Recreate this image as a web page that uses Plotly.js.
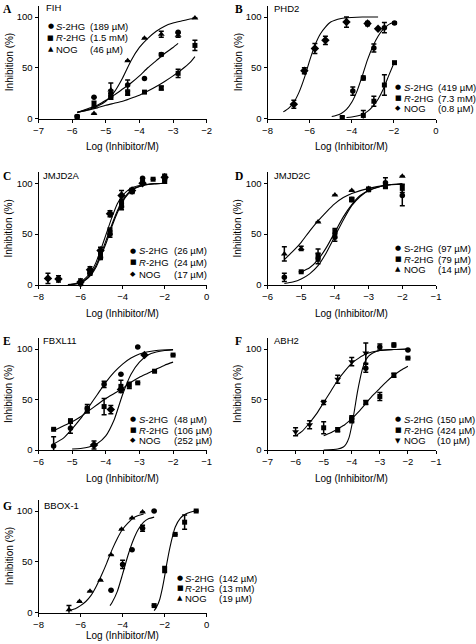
<!DOCTYPE html>
<html><head><meta charset="utf-8">
<script src="https://cdn.plot.ly/plotly-3.0.1.min.js"></script>
<style>html,body{margin:0;padding:0;background:#fff}</style>
</head><body><div id="chart" style="width:476px;height:644px"></div>
<script>
// ---------------- DATA ----------------
// Panel A - FIH
const A_S_x=[-5.85,-5.35,-4.85,-4.35,-3.85,-3.35,-2.85], A_S_y=[2,21,25,33,39.5,63,85], A_S_e=[null,null,3,5,null,1.5,null];
const A_R_x=[-5.85,-5.35,-4.85,-4.35,-3.85,-3.35,-2.85,-2.35], A_R_y=[1.5,14,21,25,26,30,44.5,72], A_R_e=[1.5,3,2,2,1,2,4,5];
const A_N_x=[-5.35,-4.85,-4.35,-3.85,-3.35,-2.85,-2.35], A_N_y=[5,28,57,79,83,82,99], A_N_e=[null,7,null,null,3,2,null];
const A_fS_x=[-5.85,-5.5,-5.25,-5,-4.75,-4.5,-4.25,-4,-3.75,-3.5,-3.25,-3,-2.85], A_fS_y=[6,10,13,18,23,29,35,42,50,57,64,70,74];
const A_fR_x=[-5.85,-5.5,-5.25,-5,-4.75,-4.5,-4.25,-4,-3.75,-3.5,-3.25,-3,-2.75,-2.5,-2.35], A_fR_y=[6,8.5,10.5,13,15,17,20,23,27,31.5,36.5,42,48,55,61];
const A_fN_x=[-5.85,-5.5,-5.25,-5,-4.75,-4.5,-4.25,-4,-3.75,-3.5,-3.25,-3,-2.75,-2.5,-2.35], A_fN_y=[6,9,12,17,26,40,57,70,79,86,91,94,96,98,98.5];
const A_legName=['<i>S</i>-2HG','<i>R</i>-2HG','NOG'], A_legVal=['(189 µM)','(1.5 mM)','(46 µM)'];

// Panel B - PHD2
const B_S_x=[-3.95,-3.45,-2.95,-2.45,-1.97], B_S_y=[27,40,69.5,89.5,94], B_S_e=[4,2,4,5,1];
const B_R_x=[-4.45,-3.45,-2.95,-2.45,-1.97], B_R_y=[1,3,17,33,55], B_R_e=[1,5,5,10,null];
const B_N_x=[-6.75,-6.25,-5.75,-5.25,-4.25,-3.25,-2.75], B_N_y=[14,47,69,77,95,93.5,88.5], B_N_e=[4,3,5,4,5,2,null];
const B_fS_x=[-4.95,-4.75,-4.5,-4.25,-4,-3.75,-3.5,-3.25,-3,-2.75,-2.5,-2.25,-1.97], B_fS_y=[2,3,5,9,16,27,42,58,71,81,88,92.5,95];
const B_fR_x=[-4.25,-4,-3.75,-3.5,-3.25,-3,-2.75,-2.5,-2.25,-1.97], B_fR_y=[1,1.5,2.5,4,7,12,19,29,42,56];
const B_fN_x=[-7.25,-7,-6.75,-6.5,-6.25,-6,-5.75,-5.5,-5.25,-5,-4.5,-4,-3.5,-2.75], B_fN_y=[6.5,10,16,26,40,57,72,83,90,95,98.5,99.5,100,100];
const B_legName=['<i>S</i>-2HG','<i>R</i>-2HG','NOG'], B_legVal=['(419 µM)','(7.3 mM)','(0.8 µM)'];

// Panel C - JMJD2A
const C_S_x=[-6.0,-5.55,-5.05,-4.6,-4.05,-3.55,-3.05,-2.0], C_S_y=[1,11.5,27,50,77,92,105,105], C_S_e=[null,2,2,3,3,2,null,3];
const C_R_x=[-5.55,-5.05,-4.6,-4.05,-3.55,-3.05,-2.55,-2.0], C_R_y=[13,31,53,81,93,101,104,102], C_R_e=[2,3,3,3,2,null,null,2];
const C_N_x=[-7.55,-7.05,-6.0,-5.55,-5.05,-4.6,-4.05,-3.55,-3.05,-2.0], C_N_y=[6.5,6,3,15,34,70,88,93,100,106], C_N_e=[5,3,3,3,3,3,5,2,null,3];
const C_fS_x=[-6.6,-6.25,-6,-5.75,-5.5,-5.25,-5,-4.75,-4.5,-4.25,-4,-3.75,-3.5,-3,-2.5,-2], C_fS_y=[0.3,1,2,5,10,18,30,43,58,71,82,89,94,98,99.5,100];
const C_fR_x=[-6.6,-6.25,-6,-5.75,-5.5,-5.25,-5,-4.75,-4.5,-4.25,-4,-3.75,-3.5,-3,-2.5,-2], C_fR_y=[0.3,1,2.5,5.5,11,20,32,46,60,73,83,90,94.5,98,99.5,100];
const C_fN_x=[-6.6,-6.25,-6,-5.75,-5.5,-5.25,-5,-4.75,-4.5,-4.25,-4,-3.75,-3.5,-3,-2.5,-2], C_fN_y=[0.5,1.5,3,7,13,23,37,52,67,80,88,93,96,98.5,99.5,100];
const C_legName=['<i>S</i>-2HG','<i>R</i>-2HG','NOG'], C_legVal=['(26 µM)','(24 µM)','(17 µM)'];

// Panel D - JMJD2C
const D_S_x=[-5.5,-4.5,-4.0,-3.5,-3.0,-2.5,-2.0], D_S_y=[7.5,26,47,84,94,100.5,88], D_S_e=[4,5,4,2,2,5,10];
const D_R_x=[-5.0,-4.5,-4.0,-3.5,-3.0,-2.5,-2.0], D_R_y=[13,29.5,52.5,84,94,97,95], D_R_e=[null,6,3,2,1,2,4];
const D_N_x=[-5.5,-5.0,-4.5,-4.0,-3.5,-3.0,-2.0], D_N_y=[30.5,36,62,88.5,93,95,107], D_N_e=[7,2,null,null,null,null,null];
const D_fS_x=[-5.5,-5.25,-5,-4.75,-4.5,-4.25,-4,-3.75,-3.5,-3.25,-3,-2.5,-2], D_fS_y=[1.5,3,6,11,19,32,48,64,78,87,93,98,99.5];
const D_fR_x=[-5,-4.75,-4.5,-4.25,-4,-3.75,-3.5,-3.25,-3,-2.5,-2], D_fR_y=[13,17,25,37,52,67,79,88,93,98,99.5];
const D_fN_x=[-5.5,-5.25,-5,-4.75,-4.5,-4.25,-4,-3.75,-3.5,-3,-2.5,-2], D_fN_y=[25,33,42,53,63,72,80,86,90,95,98,99];
const D_legName=['S-2HG','<i>R</i>-2HG','NOG'], D_legVal=['(97 µM)','(79 µM)','(14 µM)'];

// Panel E - FBXL11
const E_S_x=[-5.55,-5.05,-4.55,-4.05,-3.55,-3.05], E_S_y=[4,21.5,41,65,75,102], E_S_e=[9,5,4,3,null,null];
const E_R_x=[-5.55,-5.05,-4.55,-4.05,-3.55,-3.3,-3.05,-2.55,-2.0], E_R_y=[20.5,28.7,40,43,63,64,66.5,78,94], E_R_e=[null,2,3,8,6,3,null,null,null];
const E_N_x=[-4.35,-3.85,-3.55,-2.85], E_N_y=[5,40,60,94], E_N_e=[4,4,null,null];
const E_fS_x=[-5.55,-5.25,-5,-4.75,-4.5,-4.25,-4,-3.75,-3.5,-3.25,-3,-2.5,-2], E_fS_y=[6,12,21,31,43,55,67,77,85,91,95,98.5,99.5];
const E_fR_x=[-5.55,-5.25,-5,-4.75,-4.5,-4.25,-4,-3.75,-3.5,-3.25,-3,-2.75,-2.5,-2.25,-2], E_fR_y=[19,24,28,33,39,45,51,56,61,67,72,76,80,84,87];
const E_fN_x=[-5,-4.75,-4.5,-4.25,-4,-3.75,-3.5,-3.25,-3,-2.75,-2.5,-2.25,-2], E_fN_y=[1,1.5,3,6.5,14,30,55,75,87,94,97,98.5,99];
const E_legName=['<i>S</i>-2HG','<i>R</i>-2HG','NOG'], E_legVal=['(48 µM)','(106 µM)','(252 µM)'];

// Panel F - ABH2
const F_S_x=[-4.0,-3.5,-3.0,-2.5,-2.0], F_S_y=[31,81,102,104,99], F_S_e=[3,4,3,2,null];
const F_R_x=[-5.0,-4.5,-4.0,-3.5,-3.0,-2.5,-2.0], F_R_y=[22,20,30,47,53,74,91], F_R_e=[6,2,3,2,4,2,null];
const F_N_x=[-6.0,-5.5,-5.0,-4.5,-4.0,-3.5], F_N_y=[18,25,47,70,87.5,96], F_N_e=[4,4,2,4,4,10];
const F_fS_x=[-5,-4.5,-4.3,-4.2,-4.1,-4,-3.9,-3.8,-3.7,-3.6,-3.5,-3.4,-3.25,-3,-2.5,-2], F_fS_y=[0,1,3,6,12,24,40,57,71,82,89,93,96,98.5,99.5,100];
const F_fR_x=[-5,-4.75,-4.5,-4.25,-4,-3.75,-3.5,-3.25,-3,-2.75,-2.5,-2.25,-2], F_fR_y=[14,17,21,25,31,38,46,54,61,68,74,79,83];
const F_fN_x=[-6,-5.75,-5.5,-5.25,-5,-4.75,-4.5,-4.25,-4,-3.75,-3.5,-3,-2.5,-2], F_fN_y=[14,19,27,36,47,58,69,78,86,91,95,98.5,99.5,100];
const F_legName=['<i>S</i>-2HG','<i>R</i>-2HG','NOG'], F_legVal=['(150 µM)','(424 µM)','(10 µM)'];

// Panel G - BBOX-1
const G_S_x=[-4.55,-4.0,-3.55,-3.05,-2.5], G_S_y=[22,47.5,62,83,100], G_S_e=[null,4,null,3,null];
const G_R_x=[-2.5,-2.0,-1.5,-1.05,-0.5], G_R_y=[7,42.5,77,89,100], G_R_e=[null,3,null,7,null];
const G_N_x=[-6.55,-6.05,-5.55,-5.05,-4.55,-4.05,-3.55,-3.05], G_N_y=[3,11,21,32,57,82,93,99], G_N_e=[4,null,null,null,null,null,null,null];
const G_fS_x=[-4.6,-4.5,-4.25,-4,-3.75,-3.5,-3.25,-3,-2.75,-2.5], G_fS_y=[7,10,21,38,56,71,82,89,92.5,94];
const G_fR_x=[-2.5,-2.4,-2.25,-2.1,-2,-1.9,-1.75,-1.6,-1.5,-1.25,-1,-0.75,-0.5], G_fR_y=[2,5,12,25,36,48,64,77,84,93,97,99,100];
const G_fN_x=[-6.6,-6.25,-6,-5.75,-5.5,-5.25,-5,-4.75,-4.5,-4.25,-4,-3.75,-3.5,-3.25,-3], G_fN_y=[2,4,7,11,17,26,37,49,62,73,82,88,93,95.5,97];
const G_legName=['<i>S</i>-2HG','<i>R</i>-2HG','NOG'], G_legVal=['(142 µM)','(13 mM)','(19 µM)'];

const yTicks=[0,50,100];

// ---------------- LAYOUT ----------------
const W=476,H=644;
const FONT='"Liberation Sans", Arial, Helvetica, sans-serif';
const cols=[[38.5,206.7],[267.5,436]];
const rows=[[118.5,17],[285,183.3],[450,349],[612.7,511]];
const YTOP=111;

const panels=[
 {L:'A',t:'FIH',c:0,r:0,xr:[-7,-2],dx:1,nog:'triangle-up',ng:'▲',
  S:[A_S_x,A_S_y,A_S_e],R:[A_R_x,A_R_y,A_R_e],N:[A_N_x,A_N_y,A_N_e],
  fS:[A_fS_x,A_fS_y],fR:[A_fR_x,A_fR_y],fN:[A_fN_x,A_fN_y],ln:A_legName,lv:A_legVal,
  leg:{ry:[26,37.7,49.3],mx:50.7,nx:55,vx:89.3},tpos:[45,7.5],xt:28},
 {L:'B',t:'PHD2',c:1,r:0,xr:[-8,0],dx:2,nog:'diamond',ng:'◆',
  S:[B_S_x,B_S_y,B_S_e],R:[B_R_x,B_R_y,B_R_e],N:[B_N_x,B_N_y,B_N_e],
  fS:[B_fS_x,B_fS_y],fR:[B_fR_x,B_fR_y],fN:[B_fN_x,B_fN_y],ln:B_legName,lv:B_legVal,
  leg:{ry:[87.3,98.3,108.3],mx:398.3,nx:402.7,vx:437},tpos:[273,8],xt:28},
 {L:'C',t:'JMJD2A',c:0,r:1,xr:[-8,0],dx:2,nog:'diamond',ng:'◆',
  S:[C_S_x,C_S_y,C_S_e],R:[C_R_x,C_R_y,C_R_e],N:[C_N_x,C_N_y,C_N_e],
  fS:[C_fS_x,C_fS_y],fR:[C_fR_x,C_fR_y],fN:[C_fN_x,C_fN_y],ln:C_legName,lv:C_legVal,
  leg:{ry:[250.7,262.3,274],mx:133.3,nx:137.7,vx:172.7},tpos:[42,175],xt:28},
 {L:'D',t:'JMJD2C',c:1,r:1,xr:[-6,-1],dx:1,nog:'triangle-up',ng:'▲',
  S:[D_S_x,D_S_y,D_S_e],R:[D_R_x,D_R_y,D_R_e],N:[D_N_x,D_N_y,D_N_e],
  fS:[D_fS_x,D_fS_y],fR:[D_fR_x,D_fR_y],fN:[D_fN_x,D_fN_y],ln:D_legName,lv:D_legVal,
  leg:{ry:[248.3,259,269.3],mx:398.3,nx:402.7,vx:437},tpos:[273,175],xt:28},
 {L:'E',t:'FBXL11',c:0,r:2,xr:[-6,-1],dx:1,nog:'diamond',ng:'◆',
  S:[E_S_x,E_S_y,E_S_e],R:[E_R_x,E_R_y,E_R_e],N:[E_N_x,E_N_y,E_N_e],
  fS:[E_fS_x,E_fS_y],fR:[E_fR_x,E_fR_y],fN:[E_fN_x,E_fN_y],ln:E_legName,lv:E_legVal,
  leg:{ry:[419.3,430,440],mx:133.3,nx:137.7,vx:173.3},tpos:[42,340],xt:28},
 {L:'F',t:'ABH2',c:1,r:2,xr:[-7,-1],dx:1,nog:'triangle-down',ng:'▼',
  S:[F_S_x,F_S_y,F_S_e],R:[F_R_x,F_R_y,F_R_e],N:[F_N_x,F_N_y,F_N_e],
  fS:[F_fS_x,F_fS_y],fR:[F_fR_x,F_fR_y],fN:[F_fN_x,F_fN_y],ln:F_legName,lv:F_legVal,
  leg:{ry:[419.3,430,440.7],mx:398.3,nx:402.7,vx:436},tpos:[273,340],xt:28},
 {L:'G',t:'BBOX-1',c:0,r:3,xr:[-8,0],dx:2,nog:'triangle-up',ng:'▲',
  S:[G_S_x,G_S_y,G_S_e],R:[G_R_x,G_R_y,G_R_e],N:[G_N_x,G_N_y,G_N_e],
  fS:[G_fS_x,G_fS_y],fR:[G_fR_x,G_fR_y],fN:[G_fN_x,G_fN_y],ln:G_legName,lv:G_legVal,
  leg:{ry:[578.3,588.3,598.3],mx:180,nx:184.3,vx:218.3},tpos:[43,505],xt:23}
];

const traces=[], annotations=[];
const layout={width:W,height:H,margin:{l:0,r:0,t:0,b:0},paper_bgcolor:'#fff',plot_bgcolor:'rgba(0,0,0,0)',
  showlegend:false,font:{family:FONT,color:'#000',size:10},annotations:annotations};

function ann(text,x,y,o){return Object.assign({text:text,x:x/W,y:1-y/H,xref:'paper',yref:'paper',showarrow:false,
  xanchor:'left',yanchor:'middle',borderpad:0,font:{family:FONT,size:9.5,color:'#000'}},o||{});}

panels.forEach((p,i)=>{
  const n=i+1, xa='x'+(i?n:''), ya='y'+(i?n:'');
  const [xl,xr]=cols[p.c], [y0,y100]=rows[p.r];
  const ytopPx=y0-YTOP*(y0-y100)/100;
  const axBase={showline:true,linecolor:'#000',linewidth:1,ticks:'outside',ticklen:3,tickwidth:1,tickcolor:'#000',
    showgrid:false,zeroline:false,tickfont:{family:FONT,size:9.5,color:'#000'},fixedrange:true};
  layout['xaxis'+(i?n:'')]=Object.assign({},axBase,{domain:[xl/W,xr/W],range:p.xr,tickmode:'linear',tick0:p.xr[0],dtick:p.dx,anchor:ya});
  layout['yaxis'+(i?n:'')]=Object.assign({},axBase,{domain:[1-y0/H,1-ytopPx/H],range:[0,YTOP],tickmode:'array',tickvals:yTicks,ticktext:yTicks.map(String),anchor:xa});

  const line={color:'#000',width:1.1,shape:'spline',smoothing:0.6};
  [p.fS,p.fR,p.fN].forEach(f=>traces.push({type:'scatter',mode:'lines',x:f[0],y:f[1],xaxis:xa,yaxis:ya,line:line,hoverinfo:'skip'}));
  const mk=[[p.S,'circle',5.5],[p.R,'square',5],[p.N,p.nog,p.nog==='diamond'?6.5:6]];
  mk.forEach(([d,sym,sz])=>traces.push({type:'scatter',mode:'markers',x:d[0],y:d[1],xaxis:xa,yaxis:ya,cliponaxis:false,
    marker:{symbol:sym,size:sz,color:'#000',line:{width:0}},
    error_y:{type:'data',array:d[2],visible:true,color:'#000',thickness:1.5,width:2.5}}));

  // panel letter
  annotations.push(ann('<b>'+p.L+'</b>',p.c?234:1.5,p.tpos[1]+1,{font:{family:'"Liberation Serif", "Times New Roman", serif',size:11.5,color:'#000'}}));
  // panel title
  annotations.push(ann(p.t,p.tpos[0],p.tpos[1]));
  // axis titles
  annotations.push(ann('Inhibition (%)',xl-29.5,(y0+ytopPx)/2,{xanchor:'center',textangle:-90,font:{family:FONT,size:10,color:'#000'}}));
  annotations.push(ann('Log (Inhibitor/M)',(xl+xr)/2,y0+p.xt,{xanchor:'center',font:{family:FONT,size:10,color:'#000'}}));
  // legend
  const glyphs=['●','■',p.ng];
  for(let k=0;k<3;k++){
    const ry=p.leg.ry[k];
    annotations.push(ann(glyphs[k],p.leg.mx,ry,{xanchor:'center',font:{family:'"DejaVu Sans", sans-serif',size:7,color:'#000'}}));
    annotations.push(ann(p.ln[k],p.leg.nx,ry));
    annotations.push(ann(p.lv[k],p.leg.vx,ry));
  }
});

Plotly.newPlot('chart',traces,layout,{staticPlot:true,displayModeBar:false});
</script></body></html>
